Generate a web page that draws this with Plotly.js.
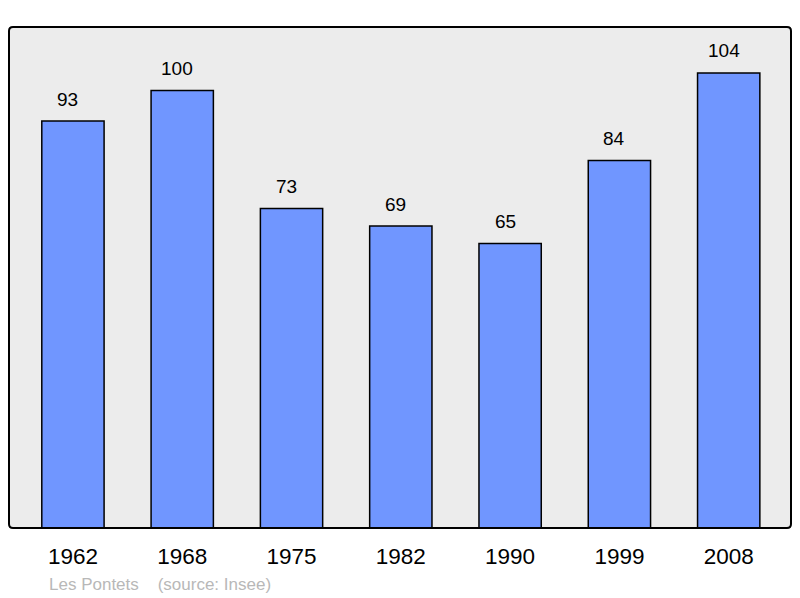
<!DOCTYPE html>
<html>
<head>
<meta charset="utf-8">
<script src="https://cdn.plot.ly/plotly-3.0.1.min.js"></script>
<style>
  body { margin: 0; background: #fff; }
  #chart { width: 800px; height: 598px; }
</style>
</head>
<body>
<div id="chart"></div>
<script>
var years = ['1962', '1968', '1975', '1982', '1990', '1999', '2008']
var population = [93, 100, 73, 69, 65, 84, 104]

var font_family = 'Liberation Sans, Arial, sans-serif'

var trace = {
    x: years,
    y: population,
    type: 'bar',
    width: 0.57,
    marker: {
        color: '#7096ff',
        line: { color: '#000000', width: 1.5 }
    },
    hoverinfo: 'none'
}

// value labels sit a bit higher than plotly's 'outside' text would
// (x given as category index, numeric-looking names get read as numbers)
var value_labels = years.map(function (yr, i) {
    return {
        x: i, y: population[i],
        xref: 'x', yref: 'y',
        text: String(population[i]),
        showarrow: false,
        yanchor: 'middle',
        xshift: -5,
        yshift: 22,
        font: { family: font_family, size: 19, color: '#000' }
    }
})

// rounded frame around the plot area, radius in paper units
var rx = 4 / 782, ry = 4 / 501
var frame_path = 'M ' + rx + ',0 L ' + (1 - rx) + ',0 Q 1,0 1,' + ry +
    ' L 1,' + (1 - ry) + ' Q 1,1 ' + (1 - rx) + ',1' +
    ' L ' + rx + ',1 Q 0,1 0,' + (1 - ry) +
    ' L 0,' + ry + ' Q 0,0 ' + rx + ',0 Z'

var layout = {
    width: 800,
    height: 598,
    margin: { l: 9, r: 9, t: 27, b: 70 },
    paper_bgcolor: '#ffffff',
    plot_bgcolor: '#ececec',
    showlegend: false,
    xaxis: {
        type: 'category',
        range: [-0.585, 6.57],
        showgrid: false,
        zeroline: false,
        showline: false,
        ticks: '',
        ticklabelstandoff: 12,
        tickfont: { family: font_family, size: 22.5, color: '#000' }
    },
    yaxis: {
        range: [0, 114.5],
        showgrid: false,
        zeroline: false,
        showline: false,
        showticklabels: false,
        ticks: ''
    },
    shapes: [{
        type: 'path',
        xref: 'paper', yref: 'paper',
        path: frame_path,
        line: { color: '#000000', width: 2 },
        fillcolor: 'rgba(0,0,0,0)',
        layer: 'above'
    }],
    annotations: value_labels.concat([{
        text: 'Les Pontets&nbsp;&nbsp;&nbsp;&nbsp;(source: Insee)',
        xref: 'paper', yref: 'paper',
        x: 38 / 782, y: -56 / 501,
        xanchor: 'left', yanchor: 'middle',
        showarrow: false,
        font: { family: font_family, size: 17, color: '#b8b8b8' }
    }])
}

Plotly.newPlot('chart', [trace], layout, { displayModeBar: false, staticPlot: true })
</script>
</body>
</html>
